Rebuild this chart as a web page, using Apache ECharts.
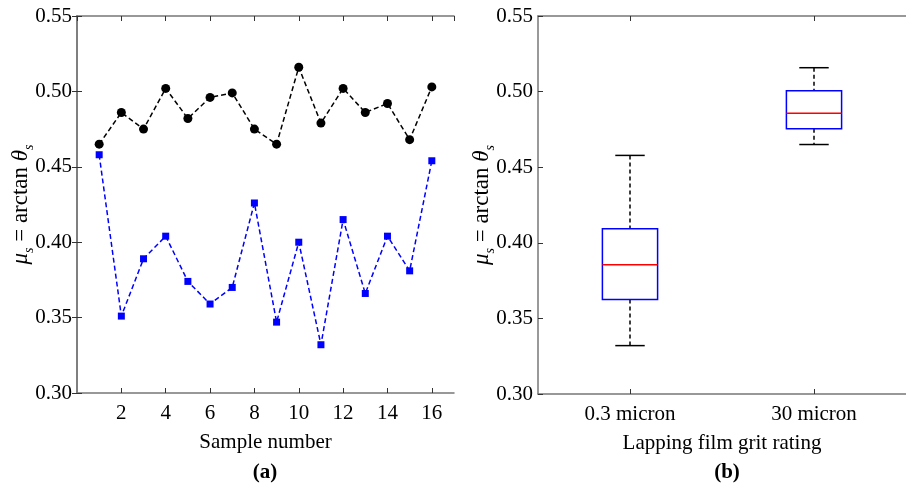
<!DOCTYPE html>
<html>
<head>
<meta charset="UTF-8">
<title>Static friction</title>
<script src="https://cdn.jsdelivr.net/npm/echarts@6/dist/echarts.min.js"></script>
<style>
  html, body { margin: 0; padding: 0; background: #fff; }
  #chart { width: 906px; height: 490px; }
</style>
</head>
<body>
<div id="chart"></div>
<script>
var samples = [1, 2, 3, 4, 5, 6, 7, 8, 9, 10, 11, 12, 13, 14, 15, 16];
var film30 = [0.465, 0.486, 0.475, 0.502, 0.482, 0.496, 0.499, 0.475, 0.465, 0.516, 0.479, 0.502, 0.486, 0.492, 0.468, 0.503];
var film03 = [0.458, 0.351, 0.389, 0.404, 0.374, 0.359, 0.370, 0.426, 0.347, 0.400, 0.332, 0.415, 0.366, 0.404, 0.381, 0.454];

// box plot summary
var boxCats = ['0.3 micron', '30 micron'];
var boxLow = [0.332, 0.465];
var boxQ1 = [0.3625, 0.4755];
var boxMed = [0.3855, 0.4856];
var boxQ3 = [0.4093, 0.5006];
var boxHigh = [0.4578, 0.5158];

var yTicks = { min: 0.30, max: 0.55, interval: 0.05 };

var font = 'Liberation Serif';
var fs = 21;
var axisGrey = '#777777';

function pairs(xs, ys) {
  return xs.map(function (x, i) { return [x, ys[i]]; });
}

var yName = '{it|μ}{sub|s}{n| = arctan }{it|θ}{sub|s}';
var yNameStyle = {
  fontFamily: font, fontSize: 23, color: '#000',
  rich: {
    it: { fontFamily: font, fontSize: 23, fontStyle: 'italic', lineHeight: 30, color: '#000' },
    n: { fontFamily: font, fontSize: 23, lineHeight: 30, color: '#000' },
    sub: { fontFamily: font, fontSize: 14, fontStyle: 'italic', lineHeight: 14, verticalAlign: 'bottom', color: '#000' }
  }
};

function yAx(grid, pos, withLabels) {
  return {
    type: 'value', gridIndex: grid, position: pos,
    min: yTicks.min, max: yTicks.max, interval: yTicks.interval,
    name: withLabels ? yName : '',
    nameLocation: 'middle', nameGap: 41, nameRotate: 90, nameMoveOverlap: false,
    nameTextStyle: yNameStyle,
    axisLine: { show: true, lineStyle: { color: axisGrey, width: 1.5 } },
    axisTick: { show: true, inside: true, length: 5, lineStyle: { color: '#333', width: 1 } },
    axisLabel: {
      show: withLabels, margin: 5, color: '#000', fontFamily: font, fontSize: fs,
      formatter: function (v) { return v.toFixed(2); }
    },
    splitLine: { show: false }
  };
}

var boxData = boxCats.map(function (c, i) {
  return [i, boxLow[i], boxQ1[i], boxMed[i], boxQ3[i], boxHigh[i]];
});

function renderBox(params, api) {
  var x = api.value(0);
  var band = api.size([1, 0])[0];
  var bw = band * 0.3, cw = band * 0.16;
  var lo = api.coord([x, api.value(1)]);
  var q1 = api.coord([x, api.value(2)]);
  var md = api.coord([x, api.value(3)]);
  var q3 = api.coord([x, api.value(4)]);
  var hi = api.coord([x, api.value(5)]);
  var cx = lo[0];
  var dash = { stroke: '#000', lineWidth: 1.5, lineDash: [4, 3] };
  var solid = { stroke: '#000', lineWidth: 1.5 };
  return {
    type: 'group',
    children: [
      { type: 'line', shape: { x1: cx, y1: hi[1], x2: cx, y2: q3[1] }, style: dash },
      { type: 'line', shape: { x1: cx, y1: q1[1], x2: cx, y2: lo[1] }, style: dash },
      { type: 'line', shape: { x1: cx - cw / 2, y1: hi[1], x2: cx + cw / 2, y2: hi[1] }, style: solid },
      { type: 'line', shape: { x1: cx - cw / 2, y1: lo[1], x2: cx + cw / 2, y2: lo[1] }, style: solid },
      { type: 'rect', shape: { x: cx - bw / 2, y: q3[1], width: bw, height: q1[1] - q3[1] },
        style: { fill: 'none', stroke: '#0000ff', lineWidth: 1.5 } },
      { type: 'line', shape: { x1: cx - bw / 2, y1: md[1], x2: cx + bw / 2, y2: md[1] },
        style: { stroke: '#ff0000', lineWidth: 1.5 } }
    ]
  };
}

var chart = echarts.init(document.getElementById('chart'));
chart.setOption({
  animation: false,
  backgroundColor: '#fff',
  grid: [
    { left: 77, top: 16, width: 377, height: 377 },
    { left: 538, top: 16, width: 378, height: 378 }
  ],
  xAxis: [
    {
      type: 'value', gridIndex: 0, position: 'bottom', min: 0, max: 17, interval: 2,
      name: 'Sample number', nameLocation: 'middle', nameGap: 39,
      nameTextStyle: { fontFamily: font, fontSize: fs, color: '#000' },
      axisLine: { show: true, lineStyle: { color: axisGrey, width: 1.5 } },
      axisTick: { show: true, inside: true, length: 5, lineStyle: { color: '#333', width: 1 } },
      axisLabel: { margin: 10, color: '#000', fontFamily: font, fontSize: fs, showMinLabel: false, showMaxLabel: false },
      splitLine: { show: false }
    },
    {
      type: 'value', gridIndex: 0, position: 'top', min: 0, max: 17, interval: 2,
      axisLine: { show: true, lineStyle: { color: axisGrey, width: 1.5 } },
      axisTick: { show: true, inside: true, length: 5, lineStyle: { color: '#333', width: 1 } },
      axisLabel: { show: false }, splitLine: { show: false }
    },
    {
      type: 'category', gridIndex: 1, position: 'bottom', data: boxCats,
      name: 'Lapping film grit rating', nameLocation: 'middle', nameGap: 39,
      nameTextStyle: { fontFamily: font, fontSize: fs, color: '#000' },
      axisLine: { show: true, lineStyle: { color: axisGrey, width: 1.5 } },
      axisTick: { show: true, inside: true, length: 5, alignWithLabel: true, lineStyle: { color: '#333', width: 1 } },
      axisLabel: { margin: 10, color: '#000', fontFamily: font, fontSize: fs },
      splitLine: { show: false }
    },
    {
      type: 'category', gridIndex: 1, position: 'top', data: boxCats,
      axisLine: { show: true, lineStyle: { color: axisGrey, width: 1.5 } },
      axisTick: { show: true, inside: true, length: 5, alignWithLabel: true, lineStyle: { color: '#333', width: 1 } },
      axisLabel: { show: false }, splitLine: { show: false }
    }
  ],
  yAxis: [
    yAx(0, 'left', true),
    yAx(0, 'right', false),
    yAx(1, 'left', true)
  ],
  series: [
    {
      type: 'line', xAxisIndex: 0, yAxisIndex: 0, data: pairs(samples, film30),
      symbol: 'circle', symbolSize: 9,
      lineStyle: { color: '#000', width: 1.5, type: [5, 3] },
      itemStyle: { color: '#000' }
    },
    {
      type: 'line', xAxisIndex: 0, yAxisIndex: 0, data: pairs(samples, film03),
      symbol: 'rect', symbolSize: 7,
      lineStyle: { color: '#0000ff', width: 1.5, type: [5, 3] },
      itemStyle: { color: '#0000ff' }
    },
    {
      type: 'custom', xAxisIndex: 2, yAxisIndex: 2, data: boxData,
      encode: { x: 0, y: [1, 2, 3, 4, 5] },
      renderItem: renderBox
    }
  ],
  graphic: [
    { type: 'text', x: 265, y: 473, style: { text: '(a)', fontFamily: font, fontSize: fs, fontWeight: 'bold', fill: '#000', align: 'center', verticalAlign: 'middle' } },
    { type: 'text', x: 727, y: 473, style: { text: '(b)', fontFamily: font, fontSize: fs, fontWeight: 'bold', fill: '#000', align: 'center', verticalAlign: 'middle' } }
  ]
});
</script>
</body>
</html>
